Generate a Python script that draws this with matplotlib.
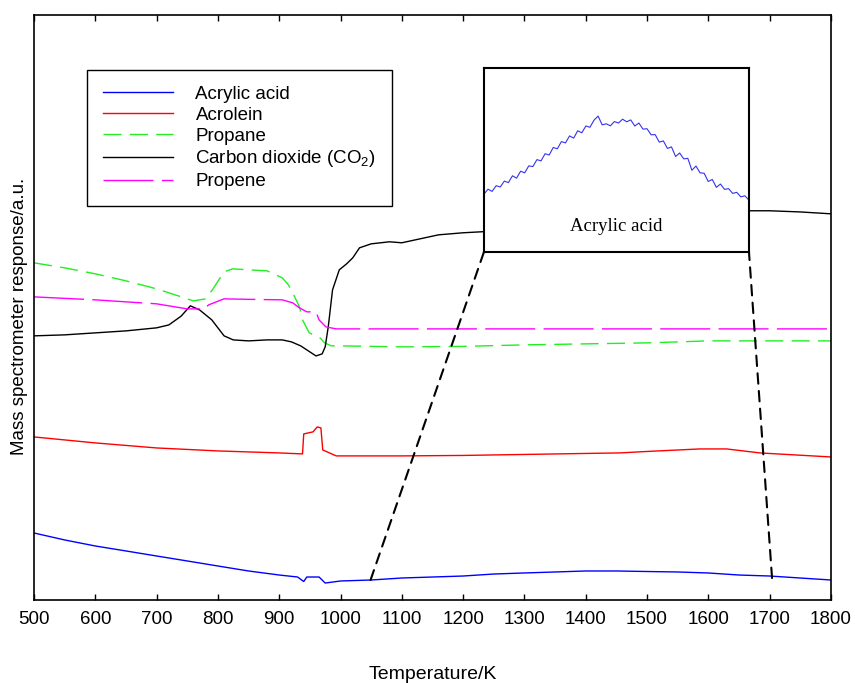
import matplotlib
matplotlib.use('Agg')
import matplotlib.pyplot as plt
from matplotlib.patches import ConnectionPatch

plt.rcParams['font.family'] = ['Liberation Sans', 'DejaVu Sans']
plt.rcParams['mathtext.fontset'] = 'custom'
plt.rcParams['mathtext.rm'] = 'Liberation Sans'
plt.rcParams['mathtext.it'] = 'Liberation Sans:italic'

# signals in arbitrary units (0-100 of the axis height)
t_acrylic = [500, 550, 600, 650, 700, 750, 800, 850, 900, 930, 940, 945, 955, 965, 975, 1000,
             1050, 1100, 1150, 1200, 1250, 1300, 1350, 1400, 1450, 1500, 1550, 1600, 1650, 1700, 1750, 1800]
acrylic = [11.45, 10.26, 9.23, 8.38, 7.52, 6.67, 5.81, 4.96, 4.27, 3.93, 3.16, 3.93, 3.93, 3.93, 2.9, 3.25,
           3.42, 3.76, 3.93, 4.10, 4.44, 4.62, 4.79, 4.96, 4.96, 4.87, 4.79, 4.62, 4.27, 4.10, 3.76, 3.42]

t_acrolein = [500, 600, 700, 800, 900, 938, 940, 955, 962, 968, 971, 993, 1100, 1200, 1300, 1400,
              1455, 1500, 1586, 1630, 1684, 1800]
acrolein = [27.86, 26.84, 25.98, 25.47, 25.13, 24.96, 28.38, 28.72, 29.57, 29.40, 25.64, 24.62, 24.62, 24.70,
            24.87, 25.04, 25.13, 25.38, 25.81, 25.81, 25.13, 24.44]

t_propane = [500, 550, 600, 650, 700, 740, 760, 780, 791, 810, 824, 850, 880, 905, 915, 922, 933, 938,
             949, 960, 965, 974, 985, 1000, 1100, 1200, 1300, 1400, 1500, 1600, 1700, 1800]
propane = [57.6, 56.75, 55.73, 54.53, 53.16, 51.8, 51.1, 51.45, 52.99, 56.07, 56.58, 56.41, 56.24, 55.04,
           53.85, 52.48, 50.09, 47.86, 45.64, 45.13, 44.96, 43.93, 43.42, 43.42, 43.25, 43.33, 43.59, 43.76,
           43.93, 44.27, 44.27, 44.27]

t_co2 = [500, 550, 600, 650, 700, 720, 740, 755, 770, 790, 810, 825, 850, 880, 905, 920, 935, 950, 960,
         970, 975, 980, 987, 998, 1010, 1020, 1031, 1050, 1080, 1100, 1130, 1160, 1200, 1230, 1300, 1400,
         1500, 1600, 1666, 1700, 1750, 1800]
co2 = [45.13, 45.3, 45.64, 45.98, 46.5, 47.0, 48.5, 50.26, 49.57, 47.86, 45.13, 44.44, 44.27, 44.44, 44.44,
       44.1, 43.42, 42.39, 41.7, 42.05, 43.25, 46.67, 52.99, 56.41, 57.44, 58.46, 60.17, 60.85, 61.2, 61.03,
       61.71, 62.39, 62.74, 62.91, 63.4, 64.3, 65.1, 66.0, 66.5, 66.5, 66.3, 65.98]

t_propene = [500, 600, 700, 750, 769, 775, 785, 810, 850, 905, 922, 933, 945, 960, 965, 976, 993,
             1200, 1400, 1600, 1800]
propene = [51.79, 51.28, 50.6, 49.74, 49.74, 49.57, 50.43, 51.45, 51.37, 51.28, 50.77, 49.91, 49.23, 49.23,
           47.86, 46.67, 46.32, 46.32, 46.32, 46.32, 46.32]

# zoomed acrylic acid trace shown in the inset
t_zoom = list(range(1050, 1701, 10))
acrylic_zoom = [31.5, 34.2, 33.0, 36.1, 35.4, 38.6, 37.8, 41.5, 40.2, 44.0, 43.1, 46.9, 46.5, 50.3, 49.6,
                53.5, 52.8, 56.9, 56.2, 60.1, 59.4, 63.2, 62.0, 66.0, 64.9, 68.6, 67.9, 71.8, 74.0, 69.2,
                69.8, 68.7, 71.0, 70.2, 72.3, 70.9, 71.9, 68.6, 70.2, 66.9, 67.1, 63.8, 63.9, 59.8, 60.5,
                56.4, 57.2, 52.0, 53.9, 50.7, 51.0, 44.5, 46.8, 43.1, 42.9, 38.4, 39.5, 35.2, 37.0, 34.1,
                34.5, 31.9, 32.5, 30.0, 30.6, 28.2]

zoom_from = [(1049, 3.42), (1704, 3.76)]

fig = plt.figure(figsize=(8.55, 6.83), dpi=100)
ax = fig.add_axes([0.0398, 0.1215, 0.932, 0.857])

ax.plot(t_acrylic, acrylic, color='#0000ff', lw=1, label='Acrylic acid')
ax.plot(t_acrolein, acrolein, color='#ff0000', lw=1, label='Acrolein')
ax.plot(t_propane, propane, color='#22ee22', lw=1, dashes=(13, 6), label='Propane')
ax.plot(t_co2, co2, color='black', lw=1, label='Carbon dioxide (CO$_2$)')
ax.plot(t_propene, propene, color='#ff00ff', lw=1, dashes=(36, 6), label='Propene')

ax.set_xlim(500, 1800)
ax.set_ylim(0, 100)
ax.set_xticks(range(500, 1801, 100))
ax.set_yticks([])
ax.tick_params(axis='x', direction='in', top=True, length=4, width=1, labelsize=13.5, pad=8)
for s in ax.spines.values():
    s.set_linewidth(1.2)

ax.set_xlabel('Temperature/K', fontsize=14)
ax.xaxis.set_label_coords(0.5, -0.113)
ax.set_ylabel('Mass spectrometer response/a.u.', fontsize=13.5)
ax.yaxis.set_label_coords(-0.0075, 0.485)

leg = ax.legend(loc='upper left', bbox_to_anchor=(0.0666, 0.906), borderaxespad=0, fontsize=13.5,
                handlelength=3.73, handletextpad=1.2, labelspacing=0.2, borderpad=0.85,
                fancybox=False, framealpha=1, edgecolor='black')
leg.get_frame().set_linewidth(1.0)

# inset with the zoomed acrylic acid signal
axins = fig.add_axes([0.566, 0.631, 0.31, 0.269])
axins.plot(t_zoom, acrylic_zoom, color='#3333ee', lw=0.8)
axins.set_xlim(1050, 1700)
axins.set_ylim(0, 100)
axins.set_xticks([])
axins.set_yticks([])
for s in axins.spines.values():
    s.set_linewidth(1.5)
axins.text(0.5, 0.14, 'Acrylic acid', transform=axins.transAxes, ha='center', va='center',
           fontsize=13.5, family='Liberation Serif')

for (x0, y0), corner in zip(zoom_from, [(0, 0), (1, 0)]):
    con = ConnectionPatch(xyA=(x0, y0), coordsA=ax.transData, xyB=corner, coordsB=axins.transAxes,
                          color='black', lw=1.5, linestyle=(0, (5, 3.5)))
    fig.add_artist(con)

fig.savefig('out.png', dpi=100)
